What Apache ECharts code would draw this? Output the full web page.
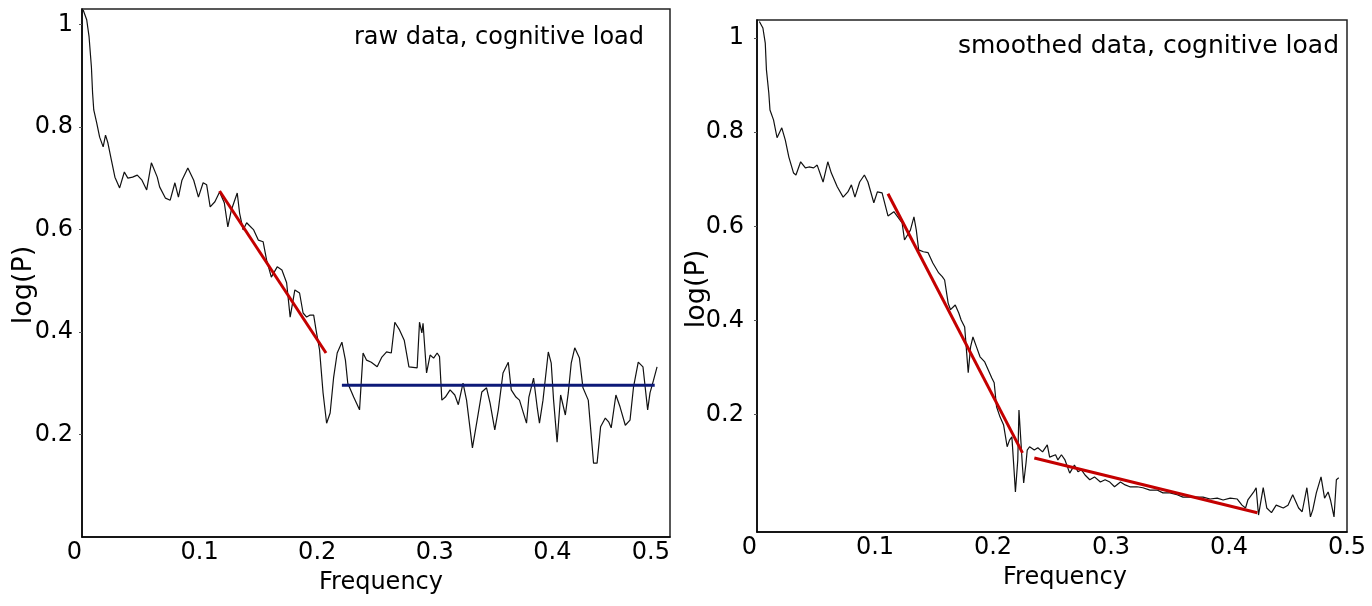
<!DOCTYPE html>
<html>
<head>
<meta charset="utf-8">
<script src="https://cdn.jsdelivr.net/npm/echarts@6/dist/echarts.min.js"></script>
<style>
  html, body { margin: 0; padding: 0; background: #fff; }
  #chart { width: 1372px; height: 606px; }
</style>
</head>
<body>
<div id="chart"></div>
<script>
// Power spectrum, raw data: [frequency, log(P)]
const rawSpectrum = [
  [0.001,1.028],[0.004,1.009],[0.006,0.976],[0.008,0.917],[0.009,0.866],[0.010,0.833],[0.0125,0.808],[0.015,0.780],
  [0.018,0.761],[0.020,0.784],[0.022,0.769],[0.025,0.735],[0.028,0.702],[0.032,0.681],[0.036,0.712],[0.039,0.700],
  [0.043,0.702],[0.047,0.706],[0.051,0.696],[0.055,0.677],[0.059,0.730],[0.064,0.702],[0.066,0.683],[0.071,0.661],
  [0.075,0.657],[0.079,0.691],[0.082,0.663],[0.085,0.696],[0.090,0.720],[0.095,0.696],[0.099,0.663],[0.103,0.691],
  [0.106,0.687],[0.109,0.644],[0.113,0.654],[0.117,0.673],[0.121,0.652],[0.124,0.605],[0.127,0.638],[0.132,0.671],
  [0.134,0.632],[0.137,0.599],[0.140,0.613],[0.146,0.599],[0.150,0.579],[0.154,0.576],[0.157,0.540],[0.161,0.507],
  [0.166,0.527],[0.170,0.521],[0.174,0.496],[0.177,0.429],[0.181,0.482],[0.185,0.476],[0.188,0.437],[0.191,0.429],
  [0.194,0.433],[0.197,0.433],[0.199,0.404],[0.202,0.365],[0.205,0.281],[0.208,0.222],[0.211,0.242],[0.214,0.312],
  [0.217,0.359],[0.221,0.380],[0.224,0.345],[0.226,0.300],[0.231,0.273],[0.236,0.248],[0.239,0.359],[0.242,0.345],
  [0.246,0.341],[0.251,0.332],[0.255,0.351],[0.259,0.361],[0.263,0.359],[0.266,0.419],[0.270,0.404],[0.274,0.384],
  [0.278,0.332],[0.285,0.330],[0.287,0.419],[0.289,0.398],[0.290,0.417],[0.293,0.320],[0.296,0.355],[0.299,0.349],
  [0.302,0.359],[0.304,0.352],[0.306,0.267],[0.309,0.273],[0.313,0.287],[0.317,0.277],[0.320,0.258],[0.324,0.300],
  [0.327,0.267],[0.332,0.174],[0.336,0.228],[0.340,0.283],[0.344,0.291],[0.347,0.261],[0.351,0.209],[0.354,0.248],
  [0.358,0.320],[0.3625,0.341],[0.365,0.287],[0.369,0.273],[0.372,0.267],[0.378,0.222],[0.380,0.273],[0.384,0.310],
  [0.387,0.254],[0.389,0.222],[0.392,0.267],[0.3965,0.361],[0.399,0.339],[0.401,0.267],[0.404,0.185],[0.407,0.277],
  [0.411,0.238],[0.4135,0.281],[0.416,0.339],[0.419,0.369],[0.423,0.349],[0.426,0.291],[0.4305,0.267],[0.435,0.144],
  [0.438,0.144],[0.441,0.215],[0.445,0.232],[0.448,0.224],[0.450,0.213],[0.454,0.277],[0.4575,0.254],[0.462,0.218],
  [0.466,0.228],[0.469,0.293],[0.473,0.341],[0.477,0.332],[0.481,0.248],[0.483,0.281],[0.486,0.306],[0.489,0.332]
];

// Power spectrum, smoothed data: [frequency, log(P)]
const smoothedSpectrum = [
  [0.002,1.035],[0.005,1.021],[0.007,0.989],[0.008,0.932],[0.010,0.883],[0.011,0.847],[0.014,0.826],[0.017,0.788],
  [0.021,0.809],[0.024,0.783],[0.027,0.747],[0.031,0.713],[0.033,0.709],[0.037,0.737],[0.041,0.724],[0.044,0.726],
  [0.048,0.724],[0.051,0.730],[0.056,0.694],[0.060,0.737],[0.063,0.713],[0.068,0.684],[0.073,0.662],[0.077,0.673],
  [0.080,0.688],[0.083,0.662],[0.087,0.694],[0.091,0.709],[0.094,0.694],[0.099,0.650],[0.102,0.673],[0.106,0.671],
  [0.111,0.622],[0.116,0.631],[0.123,0.607],[0.125,0.571],[0.130,0.592],[0.133,0.620],[0.135,0.592],[0.137,0.550],
  [0.141,0.546],[0.145,0.544],[0.149,0.522],[0.154,0.501],[0.157,0.493],[0.159,0.486],[0.162,0.437],[0.164,0.423],
  [0.168,0.433],[0.171,0.416],[0.173,0.401],[0.176,0.386],[0.179,0.289],[0.181,0.344],[0.183,0.365],[0.186,0.344],
  [0.189,0.323],[0.193,0.312],[0.196,0.295],[0.199,0.278],[0.201,0.268],[0.203,0.217],[0.206,0.195],[0.209,0.178],
  [0.212,0.132],[0.214,0.146],[0.216,0.153],[0.218,0.076],[0.219,0.036],[0.221,0.104],[0.222,0.210],[0.225,0.089],
  [0.226,0.055],[0.228,0.098],[0.229,0.125],[0.231,0.132],[0.235,0.125],[0.238,0.130],[0.242,0.121],[0.246,0.136],
  [0.248,0.110],[0.253,0.115],[0.255,0.104],[0.258,0.115],[0.261,0.104],[0.265,0.076],[0.269,0.093],[0.272,0.079],
  [0.275,0.083],[0.278,0.072],[0.282,0.062],[0.286,0.068],[0.291,0.057],[0.295,0.062],[0.299,0.057],[0.303,0.047],
  [0.308,0.057],[0.312,0.051],[0.316,0.047],[0.322,0.047],[0.327,0.045],[0.333,0.040],[0.339,0.040],[0.344,0.034],
  [0.350,0.034],[0.356,0.030],[0.361,0.025],[0.367,0.025],[0.373,0.025],[0.378,0.025],[0.384,0.021],[0.390,0.023],
  [0.395,0.019],[0.401,0.023],[0.407,0.021],[0.411,0.008],[0.414,0.002],[0.416,0.019],[0.421,0.036],[0.423,0.045],
  [0.425,-0.013],[0.429,0.045],[0.432,0.002],[0.436,-0.008],[0.440,0.008],[0.446,0.002],[0.450,0.008],[0.454,0.030],
  [0.459,0.002],[0.462,-0.006],[0.466,0.045],[0.469,-0.017],[0.471,-0.002],[0.474,0.034],[0.478,0.068],[0.481,0.023],
  [0.484,0.036],[0.486,0.019],[0.489,-0.017],[0.491,0.062],[0.493,0.066]
];

// Fitted segments (end points)
const rawSlopeFit = [[0.117, 0.675], [0.2075, 0.359]];
const rawPlateauFit = [[0.221, 0.296], [0.487, 0.296]];
const smoothedSteepFit = [[0.111, 0.669], [0.225, 0.119]];
const smoothedShallowFit = [[0.235, 0.108], [0.424, -0.008]];

// Axis ticks and labels
const freqTicks = [0, 0.1, 0.2, 0.3, 0.4, 0.5];
const logPTicks = [0.2, 0.4, 0.6, 0.8, 1];
const panelTitles = ['raw data, cognitive load', 'smoothed data, cognitive load'];

const FONT = 'DejaVu Sans';
const TEXT = { color: '#000', fontFamily: FONT, fontSize: 24 };

const fmtFreq = v => (v === 0 ? '0' : String(+v.toFixed(1)));
const fmtLogP = v => (v === 1 ? '1' : v.toFixed(1));

function xAxisFor(idx, nameShift, maxAlign) {
  return {
    gridIndex: idx, type: 'value', min: 0, max: 0.5, interval: 0.1,
    axisLine: { show: true, onZero: false, lineStyle: { color: '#000', width: 1.5 } },
    axisTick: { show: false },
    splitLine: { show: false },
    axisLabel: Object.assign({}, TEXT, {
      margin: 4, formatter: fmtFreq, customValues: freqTicks,
      alignMinLabel: 'right', alignMaxLabel: maxAlign
    }),
    name: 'Frequency', nameLocation: 'middle', nameGap: 34, nameMoveOverlap: false,
    nameTextStyle: Object.assign({}, TEXT, { padding: [0, 0, 0, nameShift] })
  };
}

function yAxisFor(idx, min, max, margin, nameGap, nameShift) {
  return {
    gridIndex: idx, type: 'value', min: min, max: max,
    axisLine: { show: true, onZero: false, lineStyle: { color: '#000', width: 1.5 } },
    axisTick: { show: true, length: 3, customValues: logPTicks, lineStyle: { color: '#555', width: 1 } },
    splitLine: { show: false },
    axisLabel: Object.assign({}, TEXT, { margin: margin, formatter: fmtLogP, customValues: logPTicks }),
    name: 'log(P)', nameLocation: 'middle', nameRotate: 90, nameGap: nameGap, nameMoveOverlap: false,
    nameTextStyle: Object.assign({}, TEXT, { fontSize: 27, padding: [0, nameShift, 0, 0] })
  };
}

function spectrumSeries(idx, data) {
  return {
    type: 'line', xAxisIndex: idx, yAxisIndex: idx, data: data,
    showSymbol: false, silent: true, z: 2,
    lineStyle: { color: '#111', width: 1.2 }
  };
}

function fitSeries(idx, data, color) {
  return {
    type: 'line', xAxisIndex: idx, yAxisIndex: idx, data: data,
    showSymbol: false, silent: true, z: 3,
    lineStyle: { color: color, width: 3 }
  };
}

const RED = '#c40000';
const NAVY = '#0d1a78';

const chart = echarts.init(document.getElementById('chart'), null, { renderer: 'canvas' });
chart.setOption({
  animation: false,
  backgroundColor: '#fff',
  title: [
    { text: panelTitles[0], right: 728, top: 25, padding: 0,
      textStyle: Object.assign({}, TEXT, { fontWeight: 'normal', lineHeight: 26 }) },
    { text: panelTitles[1], right: 33, top: 33, padding: 0,
      textStyle: Object.assign({}, TEXT, { fontWeight: 'normal', fontSize: 25, lineHeight: 26 }) }
  ],
  grid: [
    { left: 82, top: 9, width: 588, height: 528, show: true, borderColor: '#222', borderWidth: 1.5 },
    { left: 757, top: 20, width: 590, height: 512, show: true, borderColor: '#222', borderWidth: 1.5 }
  ],
  xAxis: [xAxisFor(0, 10, 'right'), xAxisFor(1, 26, 'center')],
  yAxis: [yAxisFor(0, 0, 1.03, 9, 45, 24), yAxisFor(1, -0.049, 1.038, 13, 47, 26)],
  series: [
    spectrumSeries(0, rawSpectrum),
    fitSeries(0, rawSlopeFit, RED),
    fitSeries(0, rawPlateauFit, NAVY),
    spectrumSeries(1, smoothedSpectrum),
    fitSeries(1, smoothedShallowFit, RED),
    fitSeries(1, smoothedSteepFit, RED)
  ]
});
</script>
</body>
</html>
